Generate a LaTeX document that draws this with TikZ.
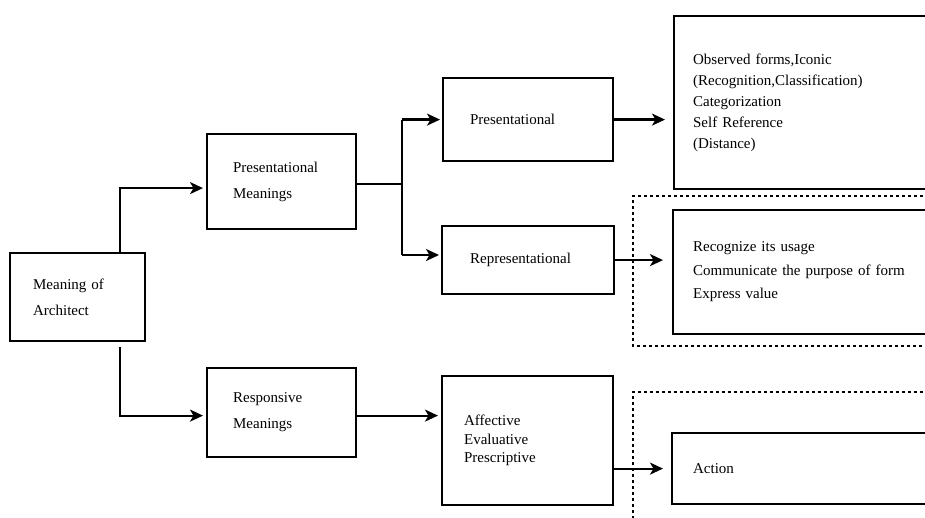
\documentclass[tikz,border=0pt]{standalone}
\usepackage{fontspec}
\setmainfont{Liberation Serif}
\usetikzlibrary{arrows.meta}
\begin{document}
\begin{tikzpicture}[x=1pt,y=-1pt,
  box/.style={draw, line width=2.2pt, rectangle, anchor=north west, align=left,
    inner ysep=0pt, font=\fontsize{15}{26}\selectfont},
  conn/.style={line width=2.2pt},
  arr/.style={line width=2.2pt, -{Stealth[length=13pt,width=12pt,inset=3.5pt]}},
  group/.style={line width=1.6pt, dash pattern=on 3pt off 3pt}]
\useasboundingbox (0,0) rectangle (925,518);
\fill[white] (0,0) rectangle (925,518);
\clip (0,0) rectangle (925,518);

% nodes
\node[box, minimum width=135pt, minimum height=88pt, inner xsep=23pt, text width=89pt] (mean) at (9,252) {Meaning of\\Architect};
\node[box, minimum width=149pt, minimum height=95pt, inner xsep=26pt, text width=97pt] (pm) at (206,133) {Presentational\\Meanings};
\node[box, minimum width=149pt, minimum height=89pt, inner xsep=26pt, text width=97pt] (rm) at (206,367) {Responsive\\Meanings};
\node[box, minimum width=170pt, minimum height=83pt, inner xsep=27pt, text width=116pt] (pres) at (442,77) {Presentational};
\node[box, minimum width=172pt, minimum height=68pt, inner xsep=28pt, text width=116pt] (rep) at (441,225) {Representational};
\node[box, minimum width=171pt, minimum height=129pt, inner xsep=22pt, text width=127pt, font=\fontsize{15}{18.5}\selectfont] (aff) at (441,375) {Affective\\Evaluative\\Prescriptive};
\node[box, minimum width=272pt, minimum height=173pt, inner xsep=19pt, text width=234pt, font=\fontsize{15}{21}\selectfont] (obs) at (673,15) {Observed forms,Iconic\\(Recognition,Classification)\\Categorization\\Self Reference\\(Distance)};
\node[box, minimum width=272pt, minimum height=124pt, inner xsep=20pt, text width=232pt, font=\fontsize{15}{23.5}\selectfont] (rec) at (672,209) {Recognize its usage\\Communicate the purpose of form\\Express value};
\node[box, minimum width=272pt, minimum height=71pt, inner xsep=21pt, text width=230pt] (act) at (671,432) {Action};

% dashed group frames
\draw[group] (935,196) -- (633,196) -- (633,346) -- (935,346);
\draw[group] (935,392) -- (633,392) -- (633,530);

% connectors
\draw[arr, shorten >=3pt] ([xshift=111pt]mean.north west) |- ([yshift=-6.5pt]pm.west);
\draw[arr, shorten >=3pt] ([xshift=111pt,yshift=-5pt]mean.south west) |- ([yshift=-3pt]rm.west);
\draw[conn] ([yshift=-2.5pt]pm.east) -- ++(45,0) coordinate (j);
\draw[conn] (j |- pres.west) -- (j |- 0,255);
\draw[arr, shorten >=2pt] (j |- pres.west) -- (pres.west);
\draw[arr, shorten >=2pt] (j |- 0,255) -- (rep.west |- 0,255);
\draw[arr, shorten >=8pt] (pres.east) -- (pres.east -| obs.west);
\draw[arr, shorten >=9pt] (rep.east) -- (rep.east -| rec.west);
\draw[arr, shorten >=3pt] ([yshift=-3pt]rm.east) -- ([yshift=-3pt]rm.east -| aff.west);
\draw[arr, shorten >=8pt] (act.west -| aff.east) -- (act.west);
\end{tikzpicture}
\end{document}
